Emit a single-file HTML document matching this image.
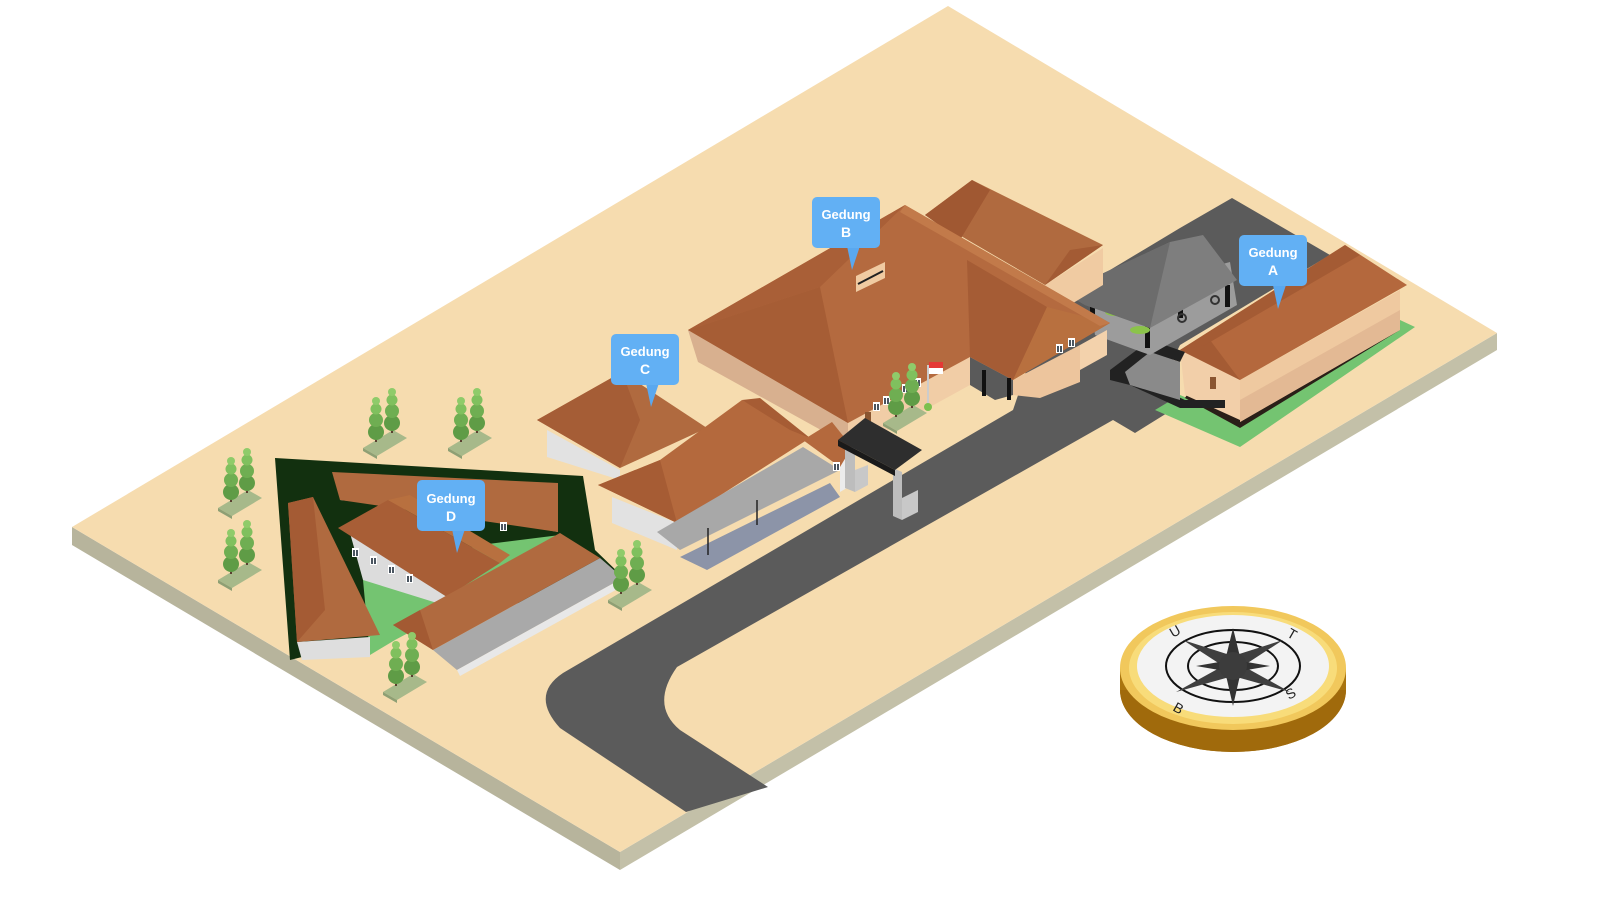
<!DOCTYPE html>
<html><head><meta charset="utf-8"><style>
html,body{margin:0;padding:0;background:#fff;width:1600px;height:900px;overflow:hidden}
svg{display:block}
.lbl{font-family:"Liberation Sans",sans-serif;font-weight:bold;fill:#fff;text-anchor:middle}
</style></head><body>
<svg width="1600" height="900" viewBox="0 0 1600 900" xmlns="http://www.w3.org/2000/svg">
<defs>
<g id="tree">
 <polygon points="-22,8 8,-10 22,-2 -8,16" fill="#a7b98a"/>
 <polygon points="-22,8 -8,16 -8,19 -22,11" fill="#8e9f74"/>
 <g>
  <rect x="-10" y="-12" width="2" height="14" fill="#5a4030"/>
  <circle cx="-9" cy="-8" r="8" fill="#5f9c46"/><circle cx="-9" cy="-20" r="7" fill="#6fae52"/><circle cx="-9" cy="-31" r="5.5" fill="#80c05e"/><circle cx="-9" cy="-39" r="4" fill="#8fcb6a"/>
 </g>
 <g transform="translate(16,-9)">
  <rect x="-10" y="-12" width="2" height="14" fill="#5a4030"/>
  <circle cx="-9" cy="-8" r="8" fill="#5f9c46"/><circle cx="-9" cy="-20" r="7" fill="#6fae52"/><circle cx="-9" cy="-31" r="5.5" fill="#80c05e"/><circle cx="-9" cy="-39" r="4" fill="#8fcb6a"/>
 </g>
</g>
<g id="win"><rect x="0" y="0" width="7" height="9" fill="#fff"/><rect x="1" y="2" width="5" height="6" fill="#4a5560"/><line x1="3.5" y1="2" x2="3.5" y2="8" stroke="#fff" stroke-width="1"/></g>
</defs>

<!-- platform -->
<polygon points="72,527 620,852 620,870 72,545" fill="#b7b49c"/>
<polygon points="620,852 1497,333 1497,350 620,870" fill="#c3c0a8"/>
<polygon points="72,527 948,6 1497,333 620,852" fill="#f6dcaf"/>

<!-- road -->
<path d="M1013,410 L563,673 Q530,695 560,728 L686,812 L768,787 L680,730 Q650,705 677,667 L1113,420 L1135,433 L1180,405 L1155,395 L1180,345 L1330,255 L1232,198 L1180,228 L1060,300 L1040,330 Z" fill="#5b5b5b"/>
<!-- lawn A -->
<polygon points="1155,410 1240,447 1415,327 1400,320 1240,420 1180,395" fill="#74c471"/>
<polygon points="1190,390 1240,418 1400,322 1400,330 1240,428 1185,398" fill="#2a1f18"/>

<!-- Gedung A -->
<polygon points="1180,350 1240,380 1240,420 1185,395" fill="#f2cfa9"/>
<polygon points="1240,380 1400,290 1400,330 1240,422" fill="#efc9a0"/>
<polygon points="1240,400 1400,310 1400,330 1240,422" fill="#e3b994"/>
<polygon points="1180,350 1345,245 1407,285 1240,380" fill="#b4683d"/>
<polygon points="1180,350 1210,340 1240,380" fill="#a45b34"/>
<polygon points="1180,350 1345,245 1360,255 1205,345" fill="#a45b34"/>
<rect x="1210" y="377" width="6" height="12" fill="#8a5530"/>
<!-- ramp -->
<polygon points="1110,370 1150,340 1185,352 1180,362 1150,352 1125,372 1185,400 1225,400 1225,408 1180,408 1130,385 1110,380" fill="#222"/>
<polygon points="1125,372 1150,352 1180,362 1180,400 1130,385" fill="#8a8a8a"/>

<!-- parking shed -->
<polygon points="1090,300 1230,262 1237,305 1150,355 1095,335" fill="#9c9c9c"/>
<rect x="1090" y="298" width="5" height="22" fill="#111"/><rect x="1145" y="318" width="5" height="30" fill="#111"/><rect x="1178" y="296" width="5" height="22" fill="#111"/><rect x="1225" y="285" width="5" height="22" fill="#111"/>
<ellipse cx="1115" cy="312" rx="10" ry="4" fill="#8bc34a"/><ellipse cx="1140" cy="330" rx="10" ry="4" fill="#8bc34a"/><circle cx="1182" cy="318" r="4" fill="none" stroke="#333" stroke-width="2"/><circle cx="1215" cy="300" r="4" fill="none" stroke="#333" stroke-width="2"/>
<polygon points="1063,292 1170,242 1203,235 1237,280 1150,328 1085,305" fill="#7e7e7e"/>
<polygon points="1063,292 1170,242 1150,328 1085,305" fill="#6c6c6c"/>

<!-- Gedung B back wing -->
<polygon points="1045,285 1103,248 1103,285 1045,320" fill="#f0cba2"/>
<polygon points="925,215 972,180 1103,245 1045,285" fill="#b06a3f"/>
<polygon points="925,215 972,180 990,190 960,240" fill="#a05832"/>
<polygon points="1045,285 1070,250 1103,245" fill="#a35b34"/>

<!-- Gedung B -->
<polygon points="688,330 848,423 848,445 698,362" fill="#d8b08f"/>
<polygon points="848,423 970,357 970,385 848,452" fill="#f1cda6"/>
<polygon points="970,357 1013,380 1013,395 995,400 970,385" fill="#5a5a5a"/>
<polygon points="1013,380 1080,345 1080,382 1040,398 1013,395" fill="#edc59d"/>
<polygon points="1080,345 1107,330 1107,355 1080,370" fill="#f3d2ac"/>
<polygon points="688,330 905,205 1110,323 1013,380 970,357 848,423" fill="#b46a3f"/>
<polygon points="688,330 820,287 848,423" fill="#a65d35"/>
<polygon points="688,330 905,205 820,287" fill="#a95f37"/>
<polygon points="967,260 1047,307 1013,380 970,357" fill="#a55c35"/>
<polygon points="1047,307 1110,323 1013,380" fill="#b8703f"/>
<polygon points="905,205 1110,323 1100,326 900,212" fill="#c27a4a"/>
<polygon points="856,276 885,262 885,278 856,292" fill="#f0cba2"/><line x1="858" y1="284" x2="883" y2="271" stroke="#222" stroke-width="2"/>
<use href="#win" x="873" y="402"/><use href="#win" x="883" y="396"/><use href="#win" x="902" y="384"/><use href="#win" x="914" y="378"/><use href="#win" x="1056" y="344"/><use href="#win" x="1068" y="338"/>
<rect x="865" y="412" width="6" height="12" fill="#8a5530"/>
<line x1="928" y1="365" x2="928" y2="408" stroke="#ccc" stroke-width="2"/>
<rect x="929" y="362" width="14" height="6" fill="#e53935"/><rect x="929" y="368" width="14" height="6" fill="#fff"/>
<circle cx="928" cy="407" r="4" fill="#7cc04f"/>
<rect x="982" y="370" width="4" height="26" fill="#111"/><rect x="1007" y="378" width="4" height="22" fill="#111"/>
<use href="#tree" x="905" y="415"/>

<!-- Gedung C -->
<polygon points="547,430 620,470 620,480 547,457" fill="#e2e2e2"/>
<polygon points="537,420 622,372 707,428 620,468" fill="#b06a3f"/>
<polygon points="537,420 622,372 640,420 620,468" fill="#a55d36"/>
<polygon points="612,497 677,523 677,550 612,523" fill="#e2e2e2"/>
<polygon points="598,485 660,460 742,400 810,438 677,523" fill="#b4693d"/>
<polygon points="598,485 660,460 677,523" fill="#a65c34"/>
<polygon points="742,400 760,398 810,438 790,430" fill="#a65c34"/>
<polygon points="680,557 830,483 840,497 707,570" fill="#8c94a8"/>
<polygon points="657,532 803,447 840,470 680,550" fill="#a8a8a8"/>
<line x1="757" y1="500" x2="757" y2="525" stroke="#222" stroke-width="1.5"/><line x1="708" y1="528" x2="708" y2="555" stroke="#222" stroke-width="1.5"/>
<polygon points="840,460 852,452 852,485 840,492" fill="#ececec"/>
<polygon points="803,440 832,422 852,447 840,467" fill="#b4693d"/>
<use href="#win" x="833" y="462"/>

<!-- gate -->
<polygon points="845,445 855,448 855,492 845,488" fill="#bdbdbd"/><polygon points="855,470 868,465 868,485 855,492" fill="#c8c8c8"/>
<polygon points="893,468 902,472 902,520 893,516" fill="#bdbdbd"/><polygon points="902,498 918,490 918,512 902,520" fill="#c8c8c8"/>
<polygon points="838,440 865,418 922,450 895,470" fill="#2e2e2e"/>
<polygon points="838,440 895,470 895,476 838,446" fill="#1a1a1a"/>

<!-- Gedung D -->
<polygon points="275,458 583,476 595,550 623,577 290,660" fill="#12300f"/>
<polygon points="363,580 480,545 560,535 470,600 395,640 370,655" fill="#74c471"/>
<polygon points="350,533 447,597 437,603 363,580" fill="#dcdcdc"/>
<polygon points="340,500 558,483 558,532 440,510" fill="#dcdcdc"/>
<polygon points="332,472 558,483 558,532 340,500" fill="#b06a3f"/>
<polygon points="338,528 388,500 500,563 447,597" fill="#a85e36"/>
<polygon points="388,500 410,495 510,555 500,563" fill="#b8703f"/>
<polygon points="297,642 370,637 370,657 302,660" fill="#dedede"/>
<polygon points="288,503 313,497 380,635 297,642" fill="#b06a3f"/>
<polygon points="288,503 313,497 325,610 297,642" fill="#a45b34"/>
<polygon points="433,650 600,558 623,578 457,670" fill="#a9a9a9"/>
<polygon points="457,670 623,578 623,586 460,676" fill="#e8e8e8"/>
<polygon points="393,625 560,533 600,558 433,650" fill="#b06a3f"/>
<polygon points="393,625 420,610 433,650" fill="#a35a33"/>
<use href="#win" x="352" y="548"/><use href="#win" x="370" y="556"/><use href="#win" x="388" y="565"/><use href="#win" x="406" y="574"/><use href="#win" x="500" y="522"/>

<!-- trees -->
<use href="#tree" x="385" y="440"/><use href="#tree" x="470" y="440"/><use href="#tree" x="240" y="500"/><use href="#tree" x="240" y="572"/><use href="#tree" x="630" y="592"/><use href="#tree" x="405" y="684"/>

<!-- labels -->
<g>
 <path d="M847,246 L860,246 L852,270 Z" fill="#5aa8ef"/><rect x="812" y="197" width="68" height="51" rx="5" fill="#62b0f4"/>
 <text class="lbl" x="846" y="219" font-size="13">Gedung</text><text class="lbl" x="846" y="237" font-size="14">B</text>
 <path d="M646,383 L659,383 L651,407 Z" fill="#5aa8ef"/><rect x="611" y="334" width="68" height="51" rx="5" fill="#62b0f4"/>
 <text class="lbl" x="645" y="356" font-size="13">Gedung</text><text class="lbl" x="645" y="374" font-size="14">C</text>
 <path d="M1273,285 L1286,285 L1278,309 Z" fill="#5aa8ef"/><rect x="1239" y="235" width="68" height="51" rx="5" fill="#62b0f4"/>
 <text class="lbl" x="1273" y="257" font-size="13">Gedung</text><text class="lbl" x="1273" y="275" font-size="14">A</text>
 <path d="M452,529 L465,529 L457,553 Z" fill="#5aa8ef"/><rect x="417" y="480" width="68" height="51" rx="5" fill="#62b0f4"/>
 <text class="lbl" x="451" y="503" font-size="13">Gedung</text><text class="lbl" x="451" y="521" font-size="14">D</text>
</g>

<!-- compass -->
<g>
 <path d="M1120,668 L1120,690 A113,62 0 0 0 1346,690 L1346,668 Z" fill="#b07a14"/>
 <ellipse cx="1233" cy="690" rx="113" ry="62" fill="#a06a0c"/>
 <rect x="1120" y="668" width="226" height="22" fill="#a9740f"/>
 <ellipse cx="1233" cy="668" rx="113" ry="62" fill="#f1c85c"/>
 <ellipse cx="1233" cy="668" rx="104" ry="56" fill="#f8dc7a"/>
 <ellipse cx="1233" cy="666" rx="96" ry="51" fill="#f3f3f3"/>
 <ellipse cx="1233" cy="666" rx="67" ry="36" fill="none" stroke="#111" stroke-width="2"/>
 <ellipse cx="1233" cy="666" rx="45" ry="24" fill="none" stroke="#111" stroke-width="2"/>
 <polygon points="1183,640 1233,656 1283,640 1243,666 1290,692 1233,676 1176,692 1223,666" fill="#3f3f3f"/>
 <polygon points="1233,628 1241,661 1270,666 1241,671 1233,706 1225,671 1196,666 1225,661" fill="#333"/>
 <circle cx="1233" cy="666" r="14" fill="#3c3c3c"/>
 <text x="1173" y="638" font-family="Liberation Sans,sans-serif" font-size="14" fill="#222" transform="rotate(-30 1173 638)">U</text>
 <text x="1286" y="636" font-family="Liberation Sans,sans-serif" font-size="14" fill="#222" transform="rotate(30 1286 636)">T</text>
 <text x="1172" y="710" font-family="Liberation Sans,sans-serif" font-size="14" fill="#222" transform="rotate(30 1172 710)">B</text>
 <text x="1289" y="700" font-family="Liberation Sans,sans-serif" font-size="14" fill="#222" transform="rotate(-30 1289 700)">S</text>
</g>
</svg>
</body></html>
